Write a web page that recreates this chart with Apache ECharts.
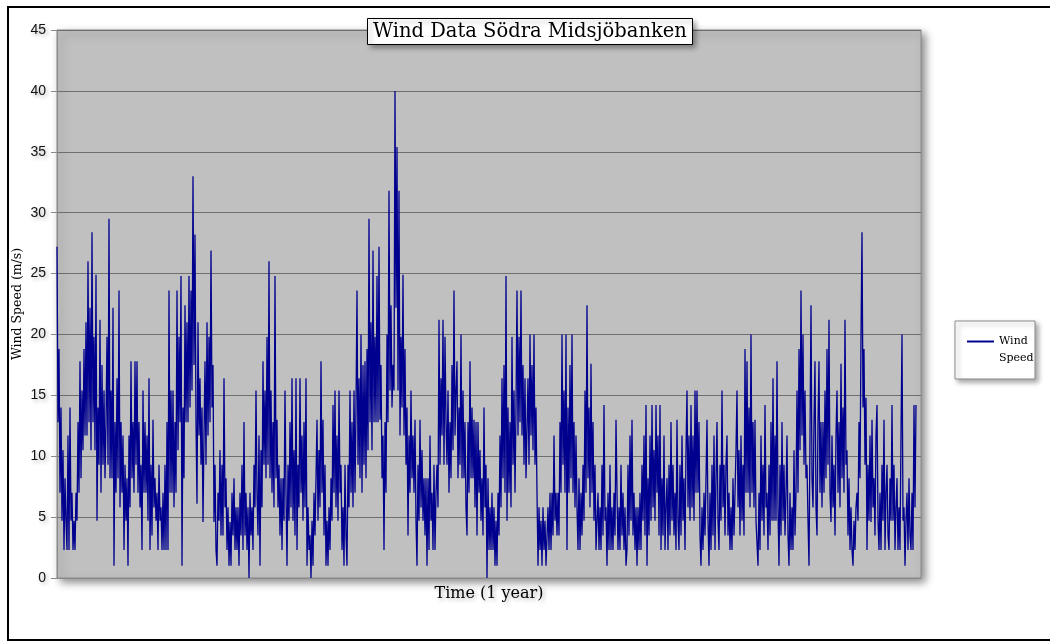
<!DOCTYPE html>
<html>
<head>
<meta charset="utf-8">
<title>Wind Data Södra Midsjöbanken</title>
<script src="https://cdn.jsdelivr.net/npm/echarts@6/dist/echarts.min.js"></script>
<style>
  html, body { margin: 0; padding: 0; background: #ffffff; }
  #chart { width: 1050px; height: 642px; }
</style>
</head>
<body>
<div id="chart"></div>
<script>
// Chart texts
const chartTitle = 'Wind Data Södra Midsjöbanken';
const seriesName = 'Wind Speed';
const legendLines = ['', 'Wind', 'Speed'];
const xAxisName = 'Time (1 year)';
const yAxisName = 'Wind Speed (m/s)';

// Y axis range and tick step (m/s)
const yMin = 0;
const yMax = 45;
const yStep = 5;

// Wind speed samples over one year (m/s), in time order
const windSpeed = [
  27.2, 12.8, 18.8, 7, 14, 4.7, 10.5, 2.3, 8.2, 4.7,
  2.3, 11.7, 2.3, 14, 4.7, 7, 2.3, 4.7, 2.3, 7,
  4.7, 12.8, 7, 17.8, 8.2, 15.4, 10.5, 18.8, 11.7, 21,
  11.7, 26, 12.8, 22.2, 10.5, 28.4, 12.8, 19.8, 10.5, 24.9,
  4.7, 14, 9.3, 21.2, 7, 17.5, 9.3, 15.4, 8.2, 12.8,
  19.8, 9.3, 29.5, 8.2, 15.4, 8.2, 22.2, 1, 12.8, 7,
  16.4, 8.2, 23.6, 5.8, 12.8, 7, 11.7, 2.3, 9.3, 4.7,
  8.2, 1, 11.7, 5.8, 17.8, 8.2, 12.8, 7, 17.8, 9.3,
  17.8, 7, 12.8, 5.8, 9.3, 2.3, 15.4, 7, 12.8, 7,
  11.7, 4.7, 16.4, 2.3, 9.3, 3.5, 13, 5.8, 8.2, 4.7,
  7, 2.3, 9.3, 4.7, 5.8, 2.3, 7, 2.3, 9.3, 2.3,
  12.8, 2.3, 23.6, 7, 15.4, 7, 15.4, 5.8, 12.8, 7,
  23.6, 10.5, 19.8, 12.8, 24.8, 1, 14, 8.2, 22.4, 12.8,
  21, 12.8, 24.8, 14, 23.6, 15.4, 33, 17.5, 28.2, 12.8,
  6.1, 21, 11.7, 16.4, 9.3, 14, 4.6, 11.7, 17.8, 9.3,
  21, 11.7, 19.8, 12.8, 26.9, 14, 17.5, 4.6, 9.3, 2.3,
  1, 7, 4.7, 10.5, 3.5, 9.3, 3.5, 16.4, 5.8, 8.2,
  2.3, 5.8, 1, 4.6, 1, 7, 3.5, 8.2, 2.3, 5.8,
  2.3, 5.8, 1, 7, 3.5, 9.3, 2.3, 12.8, 3.5, 7,
  2.3, 5.8, 0, 7, 3.5, 5.8, 2.3, 9.3, 5.8, 15.4,
  7, 3.5, 11.7, 1, 10.5, 5.8, 17.8, 9.3, 15.4, 8.2,
  19.8, 9.3, 26, 8.2, 15.4, 7, 12.8, 5.8, 24.8, 8.2,
  13, 5.8, 9.3, 3.5, 8.2, 2.3, 8.2, 4.7, 15.4, 7,
  1, 9.3, 4.7, 12.8, 5.8, 16.4, 4.7, 10.5, 3.5, 16.4,
  2.3, 9.3, 5.8, 16.4, 7, 11.7, 4.7, 12.8, 5.8, 16.4,
  1, 5.8, 2.3, 3.5, 0, 4.7, 1, 7, 3.5, 8.2,
  13, 4.7, 10.5, 5.8, 17.8, 7, 13, 3.5, 9.3, 1,
  4.7, 1, 5.8, 2.3, 8.2, 4.7, 14.2, 7, 15.4, 5.8,
  11.7, 4.7, 15.4, 7, 9.3, 2.3, 5.8, 1, 9.3, 3.5,
  1, 9.3, 5.8, 15.4, 7, 12.8, 5.8, 15.4, 7, 14,
  23.6, 9.3, 16.4, 8.2, 20, 7, 17.5, 9.3, 17.8, 8.2,
  18.8, 10.5, 29.5, 12.8, 21, 10.5, 26.9, 12.8, 19.8, 12.8,
  24.8, 12.8, 27.2, 13, 17.5, 8.2, 11.7, 2.3, 12.8, 7,
  20, 12.8, 31.8, 15.4, 22.4, 14, 17.5, 15.4, 40, 22.2,
  35.4, 15.4, 31.8, 11.7, 19.8, 14, 24.9, 11.7, 18.8, 9.3,
  14, 3.5, 11.7, 7, 15.4, 8.2, 11.7, 7, 13, 4.7,
  1, 9.3, 4.7, 13, 5.8, 10.5, 4.7, 8.2, 3.5, 8.2,
  1, 8.2, 2.3, 11.7, 4.7, 7, 2.3, 9.3, 2.3, 7,
  9.3, 5.8, 21.2, 9.3, 16.4, 11.7, 21.2, 9.3, 19.8, 12.8,
  9.3, 15.4, 7, 12.8, 8.2, 17.5, 10.5, 23.6, 11.7, 15.4,
  17.8, 8.2, 14, 9.3, 20, 8.2, 15.4, 8.2, 12.8, 5.8,
  3.5, 12.8, 7, 17.8, 8.2, 14, 8.2, 13, 5.8, 12.8,
  3.5, 12.8, 7, 10.5, 4.7, 8.2, 3.5, 14, 5.8, 9.3,
  0, 8.2, 2.3, 5.8, 2.3, 7, 2.3, 5.8, 1, 4.7,
  1, 7, 3.5, 11.7, 5.8, 16.4, 8.2, 17.5, 7, 24.8,
  4.7, 14, 7, 12.8, 5.8, 19.8, 9.3, 15.4, 7, 14,
  23.6, 11.7, 19.8, 12.8, 23.6, 11.7, 17.5, 9.3, 16.4, 8.2,
  8.2, 16.4, 9.3, 20, 11.7, 17.5, 10.5, 20, 9.3, 14,
  7, 1, 5.8, 2.3, 4.7, 1, 5.8, 2.3, 4.7, 1,
  1, 5.8, 2.3, 7, 2.3, 7, 3.5, 11.7, 4.7, 7,
  3.5, 7, 3.5, 12.8, 7, 20, 9.3, 15.4, 7, 20,
  2.3, 14, 7, 17.5, 8.2, 20, 7, 12.8, 5.8, 11.7,
  5.8, 2.3, 8.2, 2.3, 7, 3.5, 9.3, 4.7, 15.4, 7,
  22.4, 8.2, 14, 5.8, 17.6, 7, 12.8, 4.7, 9.3, 2.3,
  2.3, 7, 2.3, 5.8, 2.3, 9.3, 3.5, 14.2, 4.7, 5.8,
  1, 7, 2.3, 9.3, 2.3, 5.8, 2.3, 7, 3.5, 13,
  7, 2.3, 5.8, 2.3, 9.3, 3.5, 7, 2.3, 5.8, 1,
  2.3, 9.3, 3.5, 11.7, 4.7, 13, 3.5, 7, 2.3, 5.8,
  1, 5.8, 2.3, 7, 2.3, 9.3, 4.7, 11.7, 3.5, 14.2,
  1, 8.2, 3.5, 11.7, 4.7, 14.2, 5.8, 10.5, 4.7, 14.2,
  7, 11.7, 3.5, 14.2, 2.3, 8.2, 3.5, 11.7, 2.3, 5.8,
  8.2, 2.3, 9.3, 3.5, 12.8, 4.7, 9.3, 3.5, 7, 2.3,
  13, 4.7, 2.3, 9.3, 3.5, 11.7, 4.7, 8.2, 2.3, 10.5,
  15.4, 5.8, 11.7, 4.7, 14.2, 5.8, 11.7, 4.7, 15.4, 7,
  15.4, 7, 12.8, 3.5, 1, 5.8, 2.3, 7, 3.5, 8.2,
  13, 4.7, 1, 7, 2.3, 9.3, 3.5, 11.7, 2.3, 8.2,
  12.8, 4.7, 2.3, 9.3, 4.7, 15.4, 5.8, 9.3, 3.5, 9.3,
  11.7, 3.5, 7, 2.3, 5.8, 2.3, 8.2, 3.5, 7, 10.5,
  15.4, 5.8, 10.5, 3.5, 11.7, 4.7, 9.3, 3.5, 18.8, 7,
  17.8, 7, 14, 5.8, 20, 7, 12.8, 5.8, 13, 4.7,
  4.7, 1, 7, 2.3, 11.7, 4.7, 9.3, 3.5, 14.2, 5.8,
  7, 2.3, 9.3, 3.5, 12.8, 4.7, 16.4, 4.7, 11.7, 4.7,
  17.8, 5.8, 1, 9.3, 3.5, 12.8, 4.7, 9.3, 3.5, 7,
  11.7, 3.5, 1, 7, 2.3, 5.8, 2.3, 10.5, 3.5, 7,
  15.4, 7, 18.8, 10.5, 23.6, 11.7, 20, 9.3, 15.4, 8.2,
  9.3, 4.7, 1, 11.7, 22.4, 8.2, 5.8, 12.8, 17.8, 5.8,
  3.5, 12.8, 17.8, 7, 12.8, 5.8, 12.8, 7, 15.4, 8.2,
  18.8, 9.3, 21.2, 7, 4.6, 11.7, 5.8, 9.3, 3.5, 11.7,
  15.4, 7, 12.8, 5.8, 17.6, 8.2, 14, 7, 21.2, 9.3,
  10.5, 3.5, 8.2, 2.3, 5.8, 2.3, 1, 4.7, 2.3, 5.8,
  7, 4.7, 12.8, 8.2, 19.8, 28.4, 14, 18.8, 9.3, 14.8,
  2.3, 9.3, 4.7, 11.7, 4.6, 13, 5.8, 8.2, 3.5, 11.7,
  14.2, 4.7, 2.3, 7, 2.3, 9.3, 4.7, 13, 2.3, 7,
  9.3, 3.5, 2.3, 8.2, 4.7, 14.2, 4.7, 9.3, 2.3, 5.8,
  8.2, 2.3, 5.8, 2.3, 11.7, 20, 4.7, 5.8, 1, 4.7,
  7, 2.3, 8.2, 3.5, 2.3, 7, 2.3, 14.2, 5.8, 14.2
];

// Time index for each sample
const timeIndex = windSpeed.map((_, i) => i);
// A little empty room after the last sample
const timePadding = 5;

const serif = '"DejaVu Serif", "Liberation Serif", serif';
const sans = '"Liberation Sans", Arial, sans-serif';

const chart = echarts.init(document.getElementById('chart'), null, { renderer: 'canvas' });

const option = {
  backgroundColor: '#ffffff',
  animation: false,
  title: {
    text: chartTitle,
    left: 367,
    top: 18,
    padding: [3, 6, 3, 6],
    backgroundColor: '#ffffff',
    borderColor: '#000000',
    borderWidth: 1,
    shadowColor: 'rgba(0,0,0,0.35)',
    shadowBlur: 5,
    shadowOffsetX: 3,
    shadowOffsetY: 3,
    textStyle: {
      fontFamily: serif,
      fontSize: 19.5,
      lineHeight: 21,
      fontWeight: 'normal',
      color: '#000000'
    },
    z: 10
  },
  legend: {
    data: [{ name: seriesName, icon: 'rect' }],
    orient: 'vertical',
    left: 967,
    top: 316,
    padding: 0,
    itemWidth: 27,
    itemHeight: 2,
    selectedMode: false,
    formatter: () => legendLines.join('\n'),
    textStyle: {
      fontFamily: serif,
      fontSize: 11,
      lineHeight: 17,
      color: '#000000'
    },
    z: 10
  },
  grid: {
    left: 57,
    top: 30,
    width: 864,
    height: 548,
    containLabel: false,
    outerBoundsMode: 'none',
    show: true,
    backgroundColor: '#c0c0c0',
    borderColor: '#8a8a8a',
    borderWidth: 1,
    shadowColor: 'rgba(0,0,0,0.45)',
    shadowBlur: 8,
    shadowOffsetX: 4,
    shadowOffsetY: 4
  },
  xAxis: {
    type: 'value',
    min: 0,
    max: timeIndex.length - 1 + timePadding,
    name: xAxisName,
    nameLocation: 'middle',
    nameGap: 8,
    nameMoveOverlap: false,
    nameTextStyle: {
      fontFamily: serif,
      fontSize: 16,
      color: '#000000',
      textShadowColor: 'rgba(0,0,0,0.3)',
      textShadowBlur: 4,
      textShadowOffsetX: 2,
      textShadowOffsetY: 2
    },
    axisLine: { show: true, lineStyle: { color: '#8a8a8a', width: 1 } },
    axisTick: { show: false },
    axisLabel: { show: false },
    splitLine: { show: false }
  },
  yAxis: {
    type: 'value',
    min: yMin,
    max: yMax,
    interval: yStep,
    name: yAxisName,
    nameLocation: 'middle',
    nameGap: 33,
    nameMoveOverlap: false,
    nameTextStyle: {
      fontFamily: serif,
      fontSize: 12.5,
      color: '#000000'
    },
    axisLine: { show: true, lineStyle: { color: '#8a8a8a', width: 1 } },
    axisTick: { show: true, length: 6, lineStyle: { color: '#8a8a8a' } },
    axisLabel: {
      fontFamily: sans,
      fontSize: 14,
      color: '#111111',
      margin: 11,
      textShadowColor: 'rgba(0,0,0,0.3)',
      textShadowBlur: 4,
      textShadowOffsetX: 2,
      textShadowOffsetY: 2
    },
    splitLine: { show: true, lineStyle: { color: '#6e6e6e', width: 1 } }
  },
  graphic: [
    {
      // outer frame
      type: 'rect',
      shape: { x: 8, y: 7, width: 1100, height: 633 },
      style: { fill: 'none', stroke: '#000000', lineWidth: 2 },
      silent: true,
      z: 0
    },
    {
      // legend frame
      type: 'rect',
      shape: { x: 955, y: 321, width: 80, height: 58 },
      style: {
        fill: '#ffffff',
        stroke: '#8a8a8a',
        lineWidth: 1,
        shadowColor: 'rgba(0,0,0,0.35)',
        shadowBlur: 5,
        shadowOffsetX: 3,
        shadowOffsetY: 3
      },
      silent: true,
      z: 5
    }
  ],
  series: [
    {
      name: seriesName,
      type: 'line',
      data: timeIndex.map((t, i) => [t, windSpeed[i]]),
      symbol: 'none',
      sampling: null,
      lineStyle: { color: '#00008f', width: 1.3 },
      itemStyle: { color: '#00008f' },
      z: 3
    }
  ]
};

chart.setOption(option);
</script>
</body>
</html>
